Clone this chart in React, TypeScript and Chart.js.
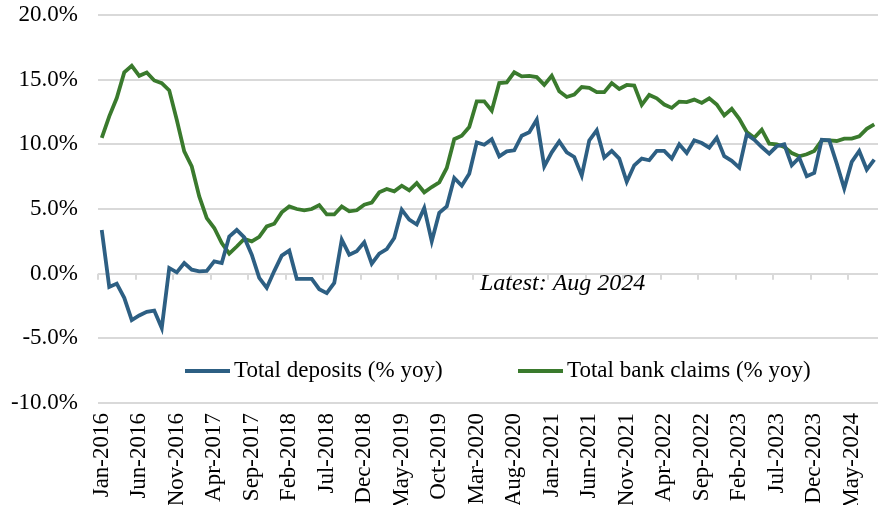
import React, { useEffect, useRef } from "react";
import { Chart, registerables } from "chart.js";

Chart.register(...registerables);

// ---------- data ----------
const MONTHS = ["Jan", "Feb", "Mar", "Apr", "May", "Jun", "Jul", "Aug", "Sep", "Oct", "Nov", "Dec"];
const FIRST_YEAR = 2016;
const LAST_YEAR = 2024;
const LAST_MONTH_INDEX = 7; // Aug-2024

const categories: string[] = [];
for (let y = FIRST_YEAR; y <= LAST_YEAR; y++) {
  for (let m = 0; m < 12; m++) {
    if (y === LAST_YEAR && m > LAST_MONTH_INDEX) break;
    categories.push(`${MONTHS[m]}-${y}`);
  }
}

const SERIES_LABELS = ["Total deposits (% yoy)", "Total bank claims (% yoy)"];

const deposits = [
  3.38, -1.03, -0.77, -1.87, -3.59, -3.23, -2.95, -2.85, -4.2, 0.44,
  0.1, 0.82, 0.31, 0.18, 0.22, 0.95, 0.82, 2.87, 3.38, 2.8,
  1.47, -0.33, -1.1, 0.2, 1.4, 1.78, -0.4, -0.4, -0.4, -1.2,
  -1.5, -0.72, 2.63, 1.47, 1.73, 2.42, 0.77, 1.55, 1.9, 2.76,
  4.95, 4.18, 3.8, 5.08, 2.5, 4.7, 5.2, 7.4, 6.8, 7.73,
  10.15, 9.97, 10.4, 9.07, 9.46, 9.54, 10.67, 10.93, 11.9, 8.3,
  9.38, 10.23, 9.38, 9.02, 7.58, 10.3, 11.08, 8.97, 9.49, 8.9,
  7.1, 8.38, 8.9, 8.77, 9.49, 9.49, 8.9, 10.0, 9.33, 10.31,
  10.1, 9.74, 10.51, 9.08, 8.72, 8.2, 10.77, 10.36, 9.79, 9.28,
  9.85, 10.0, 8.38, 8.97, 7.54, 7.79, 10.36, 10.31, 8.51, 6.59,
  8.64, 9.49, 8.05, 8.82,
];

const bankClaims = [
  10.49, 12.16, 13.58, 15.56, 16.07, 15.3, 15.56, 14.94, 14.73, 14.17,
  11.9, 9.45, 8.29, 5.97, 4.3, 3.53, 2.37, 1.55, 2.1, 2.68,
  2.5, 2.84, 3.66, 3.86, 4.74, 5.2, 5.0, 4.9, 5.0, 5.3,
  4.58, 4.58, 5.2, 4.82, 4.9, 5.33, 5.5, 6.29, 6.55, 6.37,
  6.8, 6.44, 7.0, 6.29, 6.7, 7.06, 8.17, 10.4, 10.67, 11.34,
  13.32, 13.32, 12.6, 14.74, 14.79, 15.57, 15.26, 15.3, 15.2, 14.6,
  15.3, 14.1, 13.66, 13.84, 14.43, 14.36, 14.03, 14.03, 14.74, 14.28,
  14.59, 14.54, 13.05, 13.82, 13.56, 13.08, 12.82, 13.3, 13.26, 13.46,
  13.2, 13.56, 13.08, 12.23, 12.74, 11.97, 10.95, 10.51, 11.13, 10.05,
  10.0, 9.79, 9.33, 9.08, 9.23, 9.49, 10.31, 10.31, 10.26, 10.44,
  10.44, 10.62, 11.2, 11.54,
];

const Y_MIN = -10;
const Y_MAX = 20;
const Y_STEP = 5;
const X_LABEL_EVERY = 5;
const NOTE_TEXT = "Latest: Aug 2024";

// ---------- styles ----------
const BLUE = "#2D5F83";
const GREEN = "#3A7A2D";
const GRID = "#d9d9d9";
const FONT = '"Liberation Serif", "Times New Roman", serif';

const overlayPlugin = {
  id: "overlay",
  beforeDatasetsDraw(chart: any) {
    const { ctx, scales } = chart;
    const x = scales.x;
    const y = scales.y;
    const y0 = y.getPixelForValue(0);
    ctx.save();
    ctx.strokeStyle = GRID;
    ctx.lineWidth = 2;
    for (let k = 0; k < categories.length; k += X_LABEL_EVERY) {
      const px = Math.round(x.getPixelForValue(k - 0.5));
      ctx.beginPath();
      ctx.moveTo(px, y0);
      ctx.lineTo(px, y0 + 6);
      ctx.stroke();
    }
    ctx.restore();
  },
  afterDraw(chart: any) {
    const { ctx } = chart;
    ctx.save();
    // legend
    const legendY = 371;
    const items = [
      { ds: 0, x: 185 },
      { ds: 1, x: 518 },
    ];
    ctx.font = `23px ${FONT}`;
    ctx.textBaseline = "middle";
    ctx.textAlign = "left";
    items.forEach((it) => {
      const ds = chart.data.datasets[it.ds];
      ctx.strokeStyle = ds.borderColor;
      ctx.lineWidth = 4;
      ctx.beginPath();
      ctx.moveTo(it.x, legendY);
      ctx.lineTo(it.x + 45, legendY);
      ctx.stroke();
      ctx.fillStyle = "#000";
      ctx.fillText(ds.label, it.x + 49, legendY);
    });
    // note
    ctx.font = `italic 24px ${FONT}`;
    ctx.fillStyle = "#000";
    ctx.fillText(NOTE_TEXT, 480, 284);
    ctx.restore();
  },
};

export default function App() {
  const canvasRef = useRef<HTMLCanvasElement | null>(null);

  useEffect(() => {
    if (!canvasRef.current) return;
    const chart = new Chart(canvasRef.current, {
      type: "line",
      data: {
        labels: categories,
        datasets: [
          {
            label: SERIES_LABELS[0],
            data: deposits,
            borderColor: BLUE,
            backgroundColor: BLUE,
            borderWidth: 3.8,
            pointRadius: 0,
            tension: 0,
          },
          {
            label: SERIES_LABELS[1],
            data: bankClaims,
            borderColor: GREEN,
            backgroundColor: GREEN,
            borderWidth: 3.8,
            pointRadius: 0,
            tension: 0,
          },
        ],
      },
      options: {
        animation: false,
        responsive: true,
        maintainAspectRatio: false,
        events: [],
        layout: { padding: { top: 15, right: 7, left: 0, bottom: 0 } },
        plugins: {
          legend: { display: false },
          tooltip: { enabled: false },
        },
        scales: {
          x: {
            type: "category",
            offset: true,
            grid: { display: false, drawTicks: false },
            border: { display: false },
            ticks: {
              autoSkip: false,
              minRotation: 90,
              maxRotation: 90,
              padding: 10,
              color: "#000",
              font: { family: FONT, size: 23 },
              callback: (_v: any, index: number) =>
                index % X_LABEL_EVERY === 0 ? categories[index] : "",
            },
            afterFit: (scale: any) => {
              scale.height = 102;
              scale.paddingLeft = 0;
              scale.paddingRight = 0;
            },
          },
          y: {
            min: Y_MIN,
            max: Y_MAX,
            grid: { color: GRID, lineWidth: 2, drawTicks: false },
            border: { display: false },
            ticks: {
              stepSize: Y_STEP,
              padding: 20,
              color: "#000",
              font: { family: FONT, size: 23 },
              callback: (v: any) => Number(v).toFixed(1) + "%",
            },
            afterFit: (scale: any) => {
              scale.width = 98;
              scale.paddingTop = 0;
              scale.paddingBottom = 0;
            },
          },
        },
      },
      plugins: [overlayPlugin],
    });
    return () => chart.destroy();
  }, []);

  return (
    <div style={{ position: "absolute", left: 0, top: 0, width: 885, height: 505, background: "#fff" }}>
      <canvas ref={canvasRef} />
    </div>
  );
}
